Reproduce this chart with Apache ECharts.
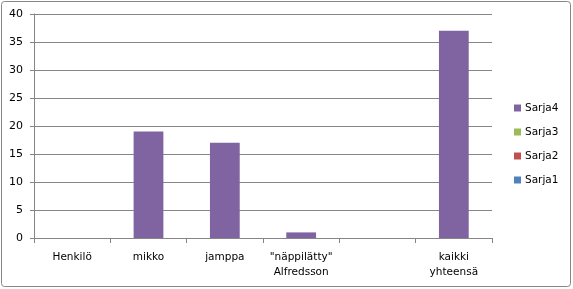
<!DOCTYPE html>
<html>
<head>
<meta charset="utf-8">
<script src="https://cdn.jsdelivr.net/npm/echarts@6/dist/echarts.min.js"></script>
<style>
html,body{margin:0;padding:0;background:#fff;}
#c{width:573px;height:289px;}
</style>
</head>
<body>
<div id="c"></div>
<script>
const categories = ['Henkilö', 'mikko', 'jamppa', '"näppilätty"\nAlfredsson', '', 'kaikki\nyhteensä'];
const sarja1 = [null, null, null, null, null, null];
const sarja2 = [null, null, null, null, null, null];
const sarja3 = [null, null, null, null, null, null];
const sarja4 = [null, 19, 17, 1, null, 37];
const yTicks = { min: 0, max: 40, interval: 5 };

const font = 'DejaVu Sans';
const chart = echarts.init(document.getElementById('c'), null, {renderer: 'canvas'});
const mk = (name, data, color) => ({
  name, type: 'bar', stack: 'total', data, barWidth: '39%',
  itemStyle: { color }, emphasis: { disabled: true }
});
chart.setOption({
  animation: false,
  textStyle: { fontFamily: font },
  graphic: [{
    type: 'rect', shape: { x: 1.5, y: 1.5, width: 569, height: 285, r: 3 },
    style: { fill: 'none', stroke: '#868686', lineWidth: 1 }, silent: true
  }],
  grid: { left: 34, right: 81, top: 14, bottom: 51 },
  legend: {
    orient: 'vertical', left: 514, top: 102, padding: 0,
    data: ['Sarja4', 'Sarja3', 'Sarja2', 'Sarja1'],
    itemWidth: 7, itemHeight: 7, itemGap: 12, icon: 'rect',
    textStyle: { fontFamily: font, fontSize: 10.5, color: '#000', lineHeight: 12, padding: [0, 0, 0, -1] }
  },
  xAxis: {
    type: 'category', data: categories,
    axisLine: { lineStyle: { color: '#868686' } },
    axisTick: { show: true, length: 5, alignWithLabel: false, lineStyle: { color: '#868686' } },
    axisLabel: { color: '#000', fontSize: 10.5, fontFamily: font, lineHeight: 15, margin: 12, interval: 0 }
  },
  yAxis: {
    type: 'value', min: yTicks.min, max: yTicks.max, interval: yTicks.interval,
    axisLine: { show: true, lineStyle: { color: '#868686' } },
    axisTick: { show: true, length: 4, lineStyle: { color: '#868686' } },
    splitLine: { lineStyle: { color: '#868686' } },
    axisLabel: { color: '#000', fontSize: 11, fontFamily: font, margin: 11 }
  },
  series: [
    mk('Sarja1', sarja1, '#4F81BD'),
    mk('Sarja2', sarja2, '#C0504D'),
    mk('Sarja3', sarja3, '#9BBB59'),
    mk('Sarja4', sarja4, '#8064A2')
  ]
});
</script>
</body>
</html>
